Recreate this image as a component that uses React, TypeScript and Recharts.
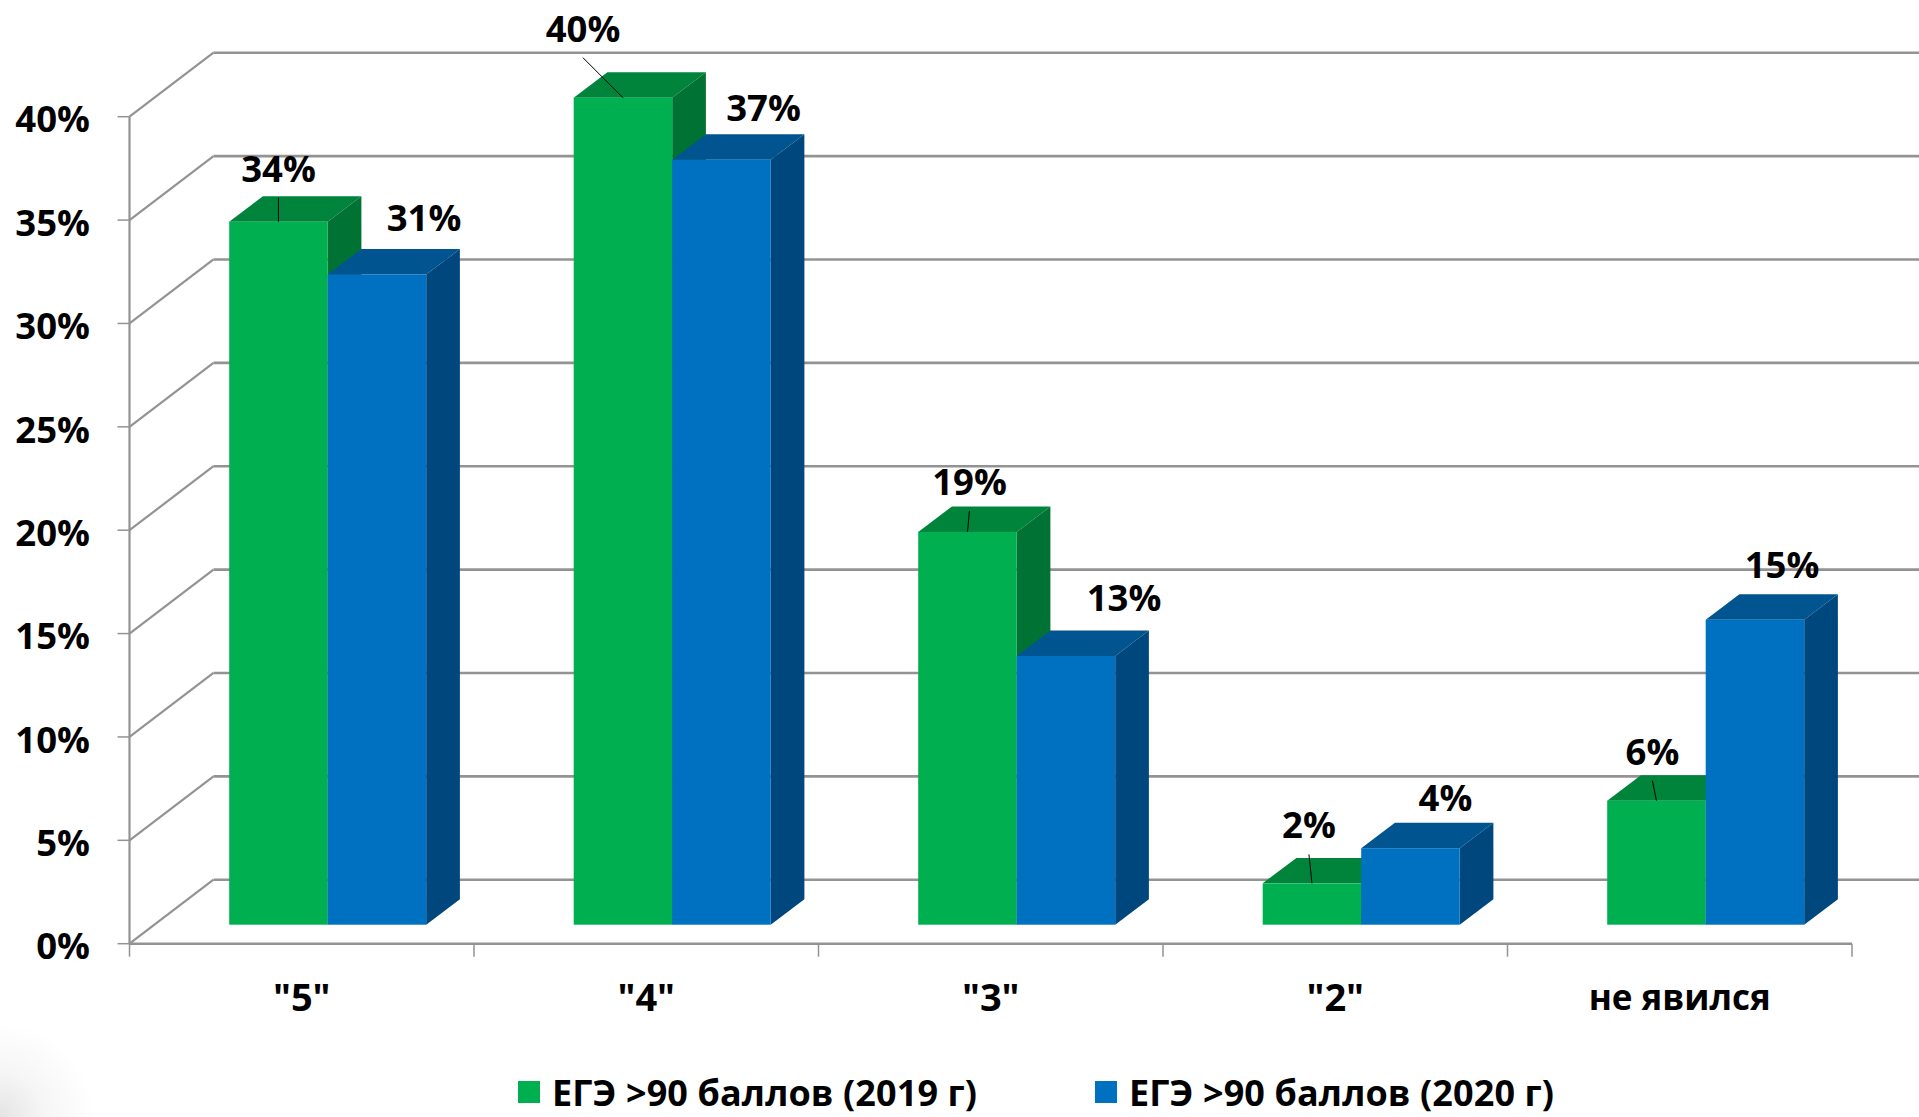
import React from "react";
import { BarChart, Bar, XAxis, YAxis, CartesianGrid, Legend, LabelList } from "recharts";

const categories = ['"5"', '"4"', '"3"', '"2"', "не явился"];
const series2019 = [34, 40, 19, 2, 6];
const series2020 = [31.45, 37, 13, 3.7, 14.75];
const yTicks = [0, 5, 10, 15, 20, 25, 30, 35, 40];
const name2019 = "ЕГЭ >90 баллов (2019 г)";
const name2020 = "ЕГЭ >90 баллов (2020 г)";

const rows = categories.map((category, i) => ({
  category,
  y2019: series2019[i],
  y2020: series2020[i],
}));

// label placement relative to the top centre of each bar's front face
const labelShift2019 = [[0, -53], [-40, -69], [2, -50], [-3, -58], [-4, -49]];
const labelShift2020 = [[47, -57], [42, -52], [58, -58], [35, -50], [27, -55]];

const W = 1919;
const H = 1117;
const LEFT = 129.5;
const RIGHT = 1852;
const TOP = 116.7;
const BOTTOM = 943.7;
const BAND = (RIGHT - LEFT) / categories.length;
const WALL_X = 84;
const WALL_Y = 64;
const FRONT_X = 25.7;
const FRONT_Y = 19;
const DEPTH_X = 33.7;
const DEPTH_Y = 25.4;
const GRAY = "#939393";
const FONT = "'Open Sans', sans-serif";
const SIZE = 36.5;

function Box3D(props: any) {
  const { x, y, width, height, front, top, side } = props;
  const l = x + FRONT_X;
  const t = y - FRONT_Y;
  const r = l + width;
  const b = t + height;
  return (
    <g>
      <polygon points={`${l},${t} ${l + DEPTH_X},${t - DEPTH_Y} ${r + DEPTH_X},${t - DEPTH_Y} ${r},${t}`} fill={top} />
      <polygon points={`${r},${t} ${r + DEPTH_X},${t - DEPTH_Y} ${r + DEPTH_X},${b - DEPTH_Y} ${r},${b}`} fill={side} />
      <rect x={l} y={t} width={width} height={height} fill={front} />
    </g>
  );
}

function makeLabel(shift: number[][], leader: boolean) {
  return function BarLabel(props: any) {
    const { x, y, width, value, index } = props;
    const cx = x + FRONT_X + width / 2;
    const top = y - FRONT_Y;
    const lx = cx + shift[index][0];
    const ly = top + shift[index][1];
    return (
      <g>
        {leader && <line x1={lx} y1={ly + 29} x2={cx} y2={top} stroke="#000" strokeWidth={1} />}
        <text x={lx} y={ly} dy="0.36em" textAnchor="middle" fontFamily={FONT} fontWeight={700} fontSize={SIZE} fill="#000">
          {Math.round(value)}%
        </text>
      </g>
    );
  };
}

function GridLine(props: any) {
  const { y1 } = props;
  return (
    <g key={`grid-${y1}`}>
      <line x1={LEFT} y1={y1} x2={LEFT + WALL_X} y2={y1 - WALL_Y} stroke={GRAY} strokeWidth={2.2} />
      <line x1={LEFT + WALL_X} y1={y1 - WALL_Y} x2={RIGHT + WALL_X} y2={y1 - WALL_Y} stroke={GRAY} strokeWidth={2.6} />
    </g>
  );
}

function YTick(props: any) {
  const { y, payload } = props;
  return (
    <g>
      <line x1={LEFT - 12} y1={y} x2={LEFT} y2={y} stroke={GRAY} strokeWidth={1.5} />
      <text x={90} y={y + 2.6} dy="0.36em" textAnchor="end" fontFamily={FONT} fontWeight={700} fontSize={SIZE} fill="#000">
        {payload.value}%
      </text>
    </g>
  );
}

function XTick(props: any) {
  const { x, payload, index } = props;
  const isLast = index === categories.length - 1;
  return (
    <g>
      <line x1={x - BAND / 2} y1={BOTTOM} x2={x - BAND / 2} y2={BOTTOM + 13} stroke={GRAY} strokeWidth={1.5} />
      {isLast && <line x1={x + BAND / 2} y1={BOTTOM} x2={x + BAND / 2} y2={BOTTOM + 13} stroke={GRAY} strokeWidth={1.5} />}
      <text x={x} y={BOTTOM + 54} dy="0.36em" textAnchor="middle" fontFamily={FONT} fontWeight={700} fontSize={isLast ? 35 : 38} fill="#000">
        {payload.value}
      </text>
    </g>
  );
}

function LegendBox(props: any) {
  const items = props.payload || [];
  const lefts = [518, 1095];
  return (
    <div style={{ position: "relative", width: W, height: 43 }}>
      {items.map((it: any, i: number) => (
        <div key={it.value} style={{ position: "absolute", left: lefts[i], top: 0, height: 43, display: "flex", alignItems: "center", whiteSpace: "nowrap" }}>
          <span style={{ display: "inline-block", width: 22, height: 22, background: it.color, marginRight: 12 }} />
          <span style={{ fontFamily: FONT, fontWeight: 700, fontSize: 36, color: "#000", lineHeight: "43px", letterSpacing: 0.1 }}>{it.value}</span>
        </div>
      ))}
    </div>
  );
}

export default function App() {
  return (
    <div
      style={{
        position: "absolute",
        left: 0,
        top: 0,
        width: W,
        height: H,
        overflow: "hidden",
        background: "radial-gradient(circle at 0 100%, #e4e4e4 0, #f6f6f6 45px, #ffffff 95px)",
      }}
    >
      <BarChart
        width={W}
        height={H}
        data={rows}
        barGap={0}
        barSize={98.5}
        margin={{ top: TOP, left: 0, right: W - RIGHT, bottom: 0 }}
      >
        <CartesianGrid vertical={false} horizontal={GridLine as any} />
        <XAxis
          dataKey="category"
          height={H - BOTTOM}
          interval={0}
          tickLine={false}
          axisLine={{ stroke: GRAY, strokeWidth: 2.6 }}
          tick={XTick as any}
        />
        <YAxis
          width={LEFT}
          domain={[0, 40]}
          ticks={yTicks}
          interval={0}
          tickLine={false}
          axisLine={{ stroke: GRAY, strokeWidth: 2.2 }}
          tick={YTick as any}
        />
        <Legend
          layout="horizontal"
          verticalAlign="middle"
          content={LegendBox as any}
          wrapperStyle={{ position: "absolute", left: 0, top: 1070.5, width: W, height: 43 }}
        />
        <Bar
          dataKey="y2019"
          name={name2019}
          fill="#00B050"
          isAnimationActive={false}
          shape={(p: any) => <Box3D {...p} front="#00B050" top="#00843C" side="#007233" />}
        >
          <LabelList dataKey="y2019" content={makeLabel(labelShift2019, true) as any} />
        </Bar>
        <Bar
          dataKey="y2020"
          name={name2020}
          fill="#0070C0"
          isAnimationActive={false}
          shape={(p: any) => <Box3D {...p} front="#0070C0" top="#00548F" side="#00477D" />}
        >
          <LabelList dataKey="y2020" content={makeLabel(labelShift2020, false) as any} />
        </Bar>
      </BarChart>
    </div>
  );
}
